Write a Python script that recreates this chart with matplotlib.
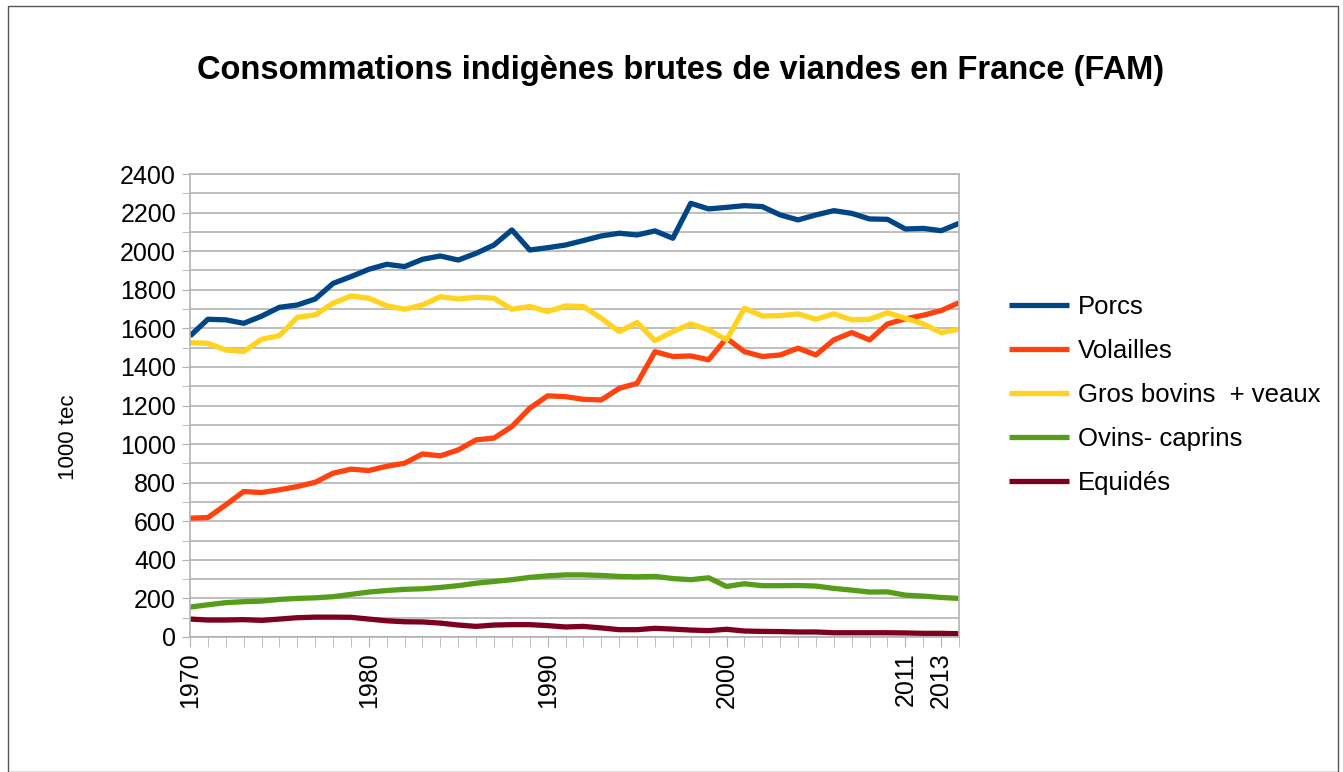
import numpy as np
import matplotlib
matplotlib.use('Agg')
import matplotlib.pyplot as plt
from matplotlib.patches import Rectangle

plt.rcParams['font.family'] = ['Liberation Sans', 'DejaVu Sans']

# one value per category (1970 ... 2014, 44 points)
porcs = [1560, 1647, 1644, 1626, 1663, 1709, 1721, 1752, 1833, 1868, 1906, 1932,
         1920, 1958, 1975, 1954, 1989, 2032, 2110, 2006, 2018, 2032, 2055, 2079,
         2093, 2084, 2105, 2067, 2248, 2219, 2227, 2236, 2231, 2188, 2162, 2188,
         2210, 2196, 2167, 2165, 2115, 2118, 2106, 2144]
volailles = [616, 619, 685, 754, 749, 763, 780, 802, 849, 870, 863, 885,
             901, 949, 939, 970, 1022, 1031, 1091, 1186, 1250, 1246, 1232, 1229,
             1289, 1315, 1479, 1454, 1457, 1437, 1549, 1479, 1454, 1462, 1497, 1462,
             1540, 1578, 1540, 1623, 1649, 1668, 1692, 1733]
bovins = [1526, 1522, 1488, 1480, 1543, 1562, 1657, 1670, 1730, 1768, 1756, 1717,
          1699, 1721, 1764, 1752, 1761, 1756, 1699, 1713, 1687, 1716, 1713, 1652,
          1583, 1630, 1536, 1583, 1623, 1592, 1540, 1704, 1664, 1666, 1675, 1647,
          1675, 1644, 1647, 1681, 1652, 1623, 1578, 1595]
ovins = [155, 167, 178, 183, 186, 195, 200, 203, 209, 221, 233, 241,
         247, 250, 257, 266, 279, 288, 297, 309, 317, 322, 322, 319,
         314, 312, 314, 303, 297, 307, 262, 276, 266, 266, 267, 264,
         252, 243, 233, 234, 217, 212, 205, 200]
equides = [93, 88, 88, 90, 86, 93, 100, 103, 103, 102, 93, 84,
           79, 78, 72, 62, 55, 62, 64, 64, 59, 52, 55, 47,
           38, 38, 45, 41, 36, 33, 40, 31, 29, 28, 26, 26,
           22, 22, 22, 22, 21, 19, 19, 17]

tick_pos = [0, 10, 20, 30, 40, 42]
tick_labels = ['1970', '1980', '1990', '2000', '2011', '2013']

series = [
    ('Porcs', porcs, '#004586'),
    ('Volailles', volailles, '#ff420e'),
    ('Gros bovins  + veaux', bovins, '#ffd320'),
    ('Ovins- caprins', ovins, '#579d1c'),
    ('Equidés', equides, '#7e0021'),
]

fig = plt.figure(figsize=(13.43, 7.72), dpi=100)
ax = fig.add_axes([190 / 1343, 1 - 637 / 772, (959 - 190) / 1343, (637 - 174) / 772])

x = np.arange(len(porcs))
for name, vals, col in series:
    ax.plot(x, vals, color=col, lw=3.8, label=name, solid_joinstyle='round',
            solid_capstyle='butt')

ax.set_xlim(0, len(porcs) - 1)
ax.set_ylim(0, 2400)
ax.set_yticks(np.arange(0, 2401, 200))
ax.set_yticks(np.arange(100, 2400, 200), minor=True)
ax.grid(True, which='both', axis='y', color='#b3b3b3', lw=1.2)
ax.set_axisbelow(True)
ax.tick_params(axis='y', which='both', direction='out', length=6, color='#b3b3b3',
               labelsize=18, pad=4)

ax.set_xticks(tick_pos)
ax.set_xticklabels(tick_labels, rotation=90)
ax.set_xticks(x, minor=True)
ax.tick_params(axis='x', which='both', direction='out', length=7, color='#b3b3b3',
               labelsize=18, pad=4)

for s in ax.spines.values():
    s.set_color('#b3b3b3')
    s.set_linewidth(1.2)

fig.text(68 / 1343, 1 - 437 / 772, '1000 tec', rotation=90, fontsize=16,
         ha='center', va='center')
fig.text(681 / 1343, 1 - 70 / 772,
         'Consommations indigènes brutes de viandes en France (FAM)',
         fontsize=23.5, fontweight='bold', ha='center', va='center')

fig.legend(loc='center left', bbox_to_anchor=(986 / 1343, 1 - 395 / 772),
           frameon=False, fontsize=18.5, handlelength=2.33, handletextpad=0.35,
           labelspacing=0.78)

fig.patches.append(Rectangle((8 / 1343, 0), 1330 / 1343, 1 - 6 / 772,
                             transform=fig.transFigure, fill=False,
                             edgecolor='#555555', lw=1))

fig.savefig('out.png', dpi=100)
